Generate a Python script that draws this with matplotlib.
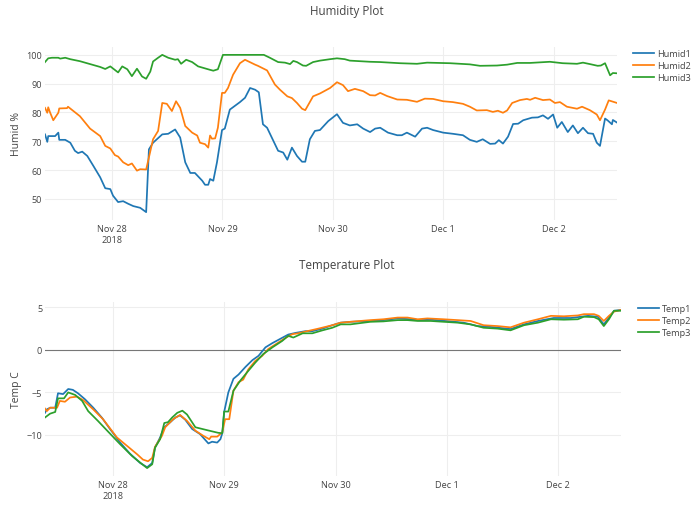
"""Humidity and temperature sensor plots, two stacked panels in the plotly look."""

import matplotlib
matplotlib.use("Agg")
import matplotlib.pyplot as plt
import pandas as pd

plt.rcParams["font.family"] = ["Open Sans", "DejaVu Sans"]

BASE = pd.Timestamp("2018-11-27")

# hours since 2018-11-27 00:00 and the reading at that time
humid1_hours = [9.4, 9.9, 10.1, 11.6, 12.3, 12.5, 13.8, 14.9, 15.9, 16.6, 17.5, 18.6, 19.9,
                21.4, 22.5, 23.6, 24.2, 25.3, 26.4, 27.5, 28.6, 30.1, 31.4, 32.0, 32.9, 34.9,
                36.2, 37.7, 38.8, 39.9, 41.0, 42.0, 43.6, 44.2, 44.9, 45.3, 46.0, 46.8, 47.9,
                48.5, 49.6, 51.8, 52.9, 54.0, 55.1, 55.9, 56.8, 57.7, 60.1, 61.2, 62.1, 63.1,
                64.2, 65.3, 66.0, 67.0, 68.1, 69.2, 71.0, 72.9, 74.2, 75.7, 77.3, 78.6, 80.1,
                81.2, 82.3, 84.0, 86.0, 87.0, 88.1, 89.9, 91.4, 92.5, 93.8, 96.0, 98.1, 100.3,
                101.8, 103.3, 104.6, 106.2, 107.3, 108.1, 109.0, 110.1, 111.2, 112.3, 113.4,
                115.3, 116.6, 117.7, 118.8, 119.9, 120.8, 121.8, 123.1, 124.2, 125.3, 126.4,
                127.5, 128.6, 129.4, 130.1, 131.2, 131.8, 132.7, 132.9, 133.8]
humid1 = [72.4, 69.8, 71.8, 71.8, 73.0, 70.5, 70.5, 69.5, 66.7, 65.9, 66.4, 64.9, 61.5,
          57.5, 53.7, 53.4, 51.1, 48.9, 49.2, 48.3, 47.5, 46.9, 45.4, 67.2, 69.5, 72.4,
          72.6, 74.1, 71.3, 62.7, 59.0, 59.0, 56.3, 54.9, 54.9, 56.9, 56.3, 62.7, 73.9,
          74.4, 81.0, 83.6, 85.1, 88.5, 87.9, 87.0, 75.9, 74.7, 66.7, 66.1, 63.6, 67.8,
          64.9, 62.9, 62.9, 70.7, 73.6, 73.9, 77.0, 79.4, 76.4, 75.5, 75.9, 74.4, 73.2,
          74.4, 74.7, 73.0, 72.1, 72.1, 73.0, 71.6, 74.4, 74.7, 73.9, 73.0, 72.6, 72.1,
          70.5, 69.8, 70.7, 69.1, 69.2, 70.4, 69.2, 71.6, 76.0, 76.1, 77.3,
          78.2, 78.3, 79.0, 77.8, 79.3, 74.7, 76.7, 73.2, 75.5, 72.8, 74.7,
          72.8, 72.6, 69.5, 68.4, 77.9, 77.2, 75.9, 77.4, 76.5]

humid2_hours = [9.4, 9.9, 10.1, 10.5, 11.2, 12.3, 12.5, 14.2, 14.4, 17.0, 19.2, 21.4, 22.5,
                23.6, 24.6, 25.3, 26.4, 27.5, 28.3, 29.4, 30.1, 31.4, 32.9, 34.0, 34.9, 35.9,
                37.0, 37.9, 38.8, 39.9, 41.4, 42.5, 43.1, 44.2, 44.9, 45.3, 45.7, 46.4, 47.0,
                47.9, 48.5, 49.2, 50.3, 51.8, 52.9, 55.1, 55.7, 57.7, 59.4, 60.5, 62.1, 63.1,
                64.2, 65.3, 66.0, 67.7, 69.2, 71.4, 72.9, 74.2, 75.3, 76.8, 78.6, 80.1, 81.2,
                82.3, 83.8, 86.0, 88.1, 90.3, 92.0, 93.8, 96.0, 98.1, 100.3, 101.8, 103.3,
                105.5, 106.8, 107.9, 109.0, 109.9, 111.0, 112.7, 114.2, 114.9, 116.0, 117.7,
                119.2, 120.3, 121.4, 122.9, 125.1, 126.2, 127.9, 129.4, 130.1, 131.2, 132.0,
                133.8]
humid2 = [81.6, 79.9, 81.8, 80.0, 77.3, 79.9, 81.4, 81.5, 82.0, 78.7, 74.4, 71.8, 68.4,
          67.5, 65.2, 64.7, 62.7, 61.7, 62.3, 59.8, 60.3, 60.2, 70.7, 73.6, 83.3, 83.0,
          80.5, 83.9, 81.6, 75.3, 73.0, 72.0, 69.5, 69.0, 67.8, 72.0, 70.9, 71.0, 74.7,
          86.8, 86.8, 88.5, 93.1, 97.1, 98.3, 96.6, 96.2, 94.6, 89.7, 87.9, 85.6, 85.0,
          83.3, 81.3, 80.8, 85.6, 86.6, 88.5, 90.5, 89.5, 87.4, 88.2, 87.4, 86.0, 85.9,
          86.8, 85.7, 84.5, 84.4, 83.7, 84.8, 84.7, 83.9, 83.6, 83.0, 82.0, 80.7,
          80.8, 80.2, 80.6, 79.9, 80.7, 83.3, 84.3, 84.7, 84.4, 85.1, 84.3,
          84.5, 83.3, 83.6, 82.0, 81.3, 82.0, 80.8, 79.3, 77.3, 81.0, 84.2,
          83.3]

humid3_hours = [9.4, 10.1, 10.9, 12.3, 12.7, 13.8, 14.9, 17.0, 19.2, 21.4, 22.5, 23.6, 25.3,
                26.2, 27.3, 28.3, 29.4, 30.5, 31.4, 32.3, 32.9, 34.0, 34.9, 36.2, 37.7, 38.3,
                39.0, 40.1, 41.4, 42.7, 45.3, 46.0, 47.0, 48.1, 57.0, 58.3, 60.1, 61.6, 62.7,
                63.4, 64.2, 65.5, 66.2, 67.7, 69.2, 71.4, 72.9, 74.6, 75.7, 80.1, 82.3, 86.6,
                90.3, 92.5, 97.5, 101.8, 104.0, 107.7, 109.9, 112.1, 114.9, 119.2, 122.0,
                125.1, 126.4, 127.9, 129.6, 130.3, 131.2, 132.3, 132.9, 133.8]
humid3 = [97.5, 98.8, 99.0, 99.0, 98.7, 99.0, 98.5, 97.8, 96.8, 95.8, 95.1, 96.0, 93.9,
          96.0, 95.0, 92.6, 95.2, 92.5, 91.7, 94.2, 97.7, 99.0, 100.0, 99.0, 98.3, 98.5,
          96.9, 98.3, 97.5, 96.0, 94.8, 94.5, 95.0, 100.0, 100.0, 99.0, 97.5, 97.3, 96.8,
          97.9, 97.5, 96.3, 96.2, 97.5, 98.0, 98.5, 98.8, 98.5, 98.0, 97.6, 97.5, 97.1,
          96.9, 97.3, 97.1, 96.7, 96.2, 96.3, 96.6, 97.2, 97.2, 97.6, 97.1,
          96.9, 97.3, 96.8, 96.2, 96.3, 97.1, 92.9, 93.7, 93.6]

temp1_hours = [9.4, 9.8, 10.5, 11.6, 12.2, 13.3, 14.4, 15.4, 16.5, 18.0, 19.8, 21.7, 23.4,
               25.6, 27.7, 29.9, 31.4, 32.5, 33.1, 34.2, 35.1, 36.4, 37.5, 38.5, 39.6, 41.1,
               42.8, 44.6, 45.4, 46.5, 47.2, 47.6, 48.0, 48.9, 50.0, 51.1, 52.6, 54.1, 55.4,
               56.9, 58.4, 60.1, 61.8, 63.4, 65.5, 67.0, 69.2, 71.3, 73.1, 75.2, 79.5, 82.3,
               85.4, 88.2, 90.3, 92.5, 95.7, 99.6, 102.6, 105.4, 109.7, 112.6, 115.6, 119.0,
               122.7, 126.4, 128.5, 129.8, 130.9, 132.0, 133.5]
temp1 = [-7.4, -7.0, -6.8, -6.8, -5.1, -5.2, -4.6, -4.7, -5.1, -5.8, -6.8, -8.0, -9.3,
         -10.9, -12.2, -13.3, -13.8, -13.3, -11.5, -10.3, -9.1, -8.5, -7.95, -7.7, -8.2, -9.3,
         -9.9, -11.0, -10.8, -10.9, -10.5, -9.8, -7.3, -5.0, -3.4, -2.9, -2.0, -1.2, -0.7,
         0.3, 0.8, 1.3, 1.8, 2.0, 2.2, 2.2, 2.5, 2.9, 3.2, 3.3, 3.4, 3.5,
         3.7, 3.6, 3.5, 3.55, 3.4, 3.2, 2.8, 2.7, 2.45, 3.0, 3.4, 3.75,
         3.75, 4.0, 3.9, 3.0, 3.8, 4.6, 4.7]

temp2_hours = [9.4, 9.8, 10.5, 12.0, 12.6, 13.7, 14.8, 16.3, 17.6, 19.8, 21.9, 24.9, 27.1,
               29.3, 30.5, 31.6, 32.5, 33.1, 34.6, 35.3, 37.0, 38.5, 40.0, 41.8, 43.5, 44.8,
               45.2, 46.5, 47.6, 48.2, 49.1, 50.0, 51.1, 52.1, 53.2, 54.7, 56.2, 57.5, 59.5,
               61.2, 62.7, 64.0, 65.5, 68.3, 71.3, 73.1, 75.2, 79.5, 82.3, 85.4, 87.5, 89.7,
               91.8, 95.3, 98.3, 101.1, 103.9, 106.9, 109.7, 112.6, 115.6, 118.4, 121.2,
               124.2, 125.5, 127.7, 128.7, 129.8, 130.9, 132.0, 133.5]
temp2 = [-6.9, -7.2, -6.8, -6.8, -6.0, -6.1, -5.6, -5.5, -5.9, -7.0, -8.15, -10.3, -11.3,
         -12.3, -12.9, -13.1, -12.7, -11.4, -10.1, -9.1, -8.15, -7.65, -8.35, -9.5, -10.1, -10.5,
         -10.2, -10.2, -9.7, -8.15, -8.15, -4.8, -3.8, -3.5, -2.3, -1.3, -0.7, 0.1, 0.8,
         1.4, 1.85, 1.95, 2.15, 2.5, 2.9, 3.2, 3.3, 3.5, 3.6, 3.8, 3.8, 3.6,
         3.7, 3.6, 3.5, 3.4, 2.9, 2.8, 2.65, 3.2, 3.6, 4.0, 3.95,
         4.05, 4.2, 4.2, 4.0, 3.4, 4.0, 4.5, 4.7]

temp3_hours = [9.4, 10.5, 11.6, 12.2, 13.5, 14.4, 15.9, 17.4, 18.7, 20.8, 22.8, 25.6, 28.2,
               29.9, 31.4, 32.5, 33.1, 34.2, 35.1, 35.9, 36.8, 37.9, 39.0, 40.0, 41.8, 44.4,
               46.7, 47.6, 48.0, 48.9, 50.0, 51.5, 53.0, 54.7, 56.4, 58.4, 60.5, 61.8, 62.9,
               64.9, 67.0, 69.2, 71.3, 73.1, 75.2, 79.5, 82.3, 85.4, 87.5, 89.7, 92.5, 95.3,
               98.3, 101.1, 103.9, 106.9, 109.7, 112.6, 115.6, 118.4, 121.2, 124.2, 125.5,
               127.7, 128.7, 129.8, 130.9, 132.0, 133.5]
temp3 = [-7.95, -7.5, -7.3, -5.7, -5.7, -5.0, -5.3, -6.0, -7.2, -8.35, -9.5, -11.1, -12.5,
         -13.25, -13.9, -13.45, -11.5, -10.5, -8.6, -8.5, -7.95, -7.4, -7.15, -7.6, -9.1, -9.45,
         -9.75, -9.8, -7.25, -7.25, -4.8, -3.6, -2.6, -1.5, -0.5, 0.3, 1.05, 1.65, 1.45,
         1.95, 1.95, 2.3, 2.6, 3.0, 3.0, 3.3, 3.35, 3.5, 3.5, 3.4, 3.4, 3.3,
         3.2, 3.0, 2.6, 2.5, 2.3, 2.9, 3.2, 3.6, 3.55, 3.6, 3.9,
         3.85, 3.6, 2.8, 3.6, 4.6, 4.6]

tick_days = ["2018-11-28", "2018-11-29", "2018-11-30", "2018-12-01", "2018-12-02"]
tick_labels = ["Nov 28\n2018", "Nov 29", "Nov 30", "Dec 1", "Dec 2"]
humid_ticks = [50, 60, 70, 80, 90, 100]
temp_ticks = [-10, -5, 0, 5]

PALETTE = ["#1f77b4", "#ff7f0e", "#2ca02c"]
TEXT = "#444444"


def _times(hours):
    return BASE + pd.to_timedelta(hours, unit="h")


def _padded(values, frac=0.05):
    lo = min(min(v) for v in values)
    hi = max(max(v) for v in values)
    pad = (hi - lo) * frac
    return lo - pad, hi + pad


def _panel(fig, rect, series, names, yticks, ylabel, legend_x):
    ax = fig.add_axes(rect)
    for i, (hours, vals) in enumerate(series):
        ax.plot(_times(hours), vals, color=PALETTE[i], linewidth=1.25, label=names[i])

    all_hours = [h for hours, _ in series for h in hours]
    ax.set_xlim(_times([min(all_hours)])[0], _times([max(all_hours)])[0])
    ax.set_ylim(*_padded([v for _, v in series]))

    ax.set_xticks(pd.to_datetime(tick_days))
    ax.set_xticklabels(tick_labels)
    ax.set_yticks(yticks)
    ax.tick_params(length=0, colors=TEXT, labelsize=6.6, pad=3)
    ax.tick_params(axis="y", pad=2)
    ax.grid(True, color="#eeeeee", linewidth=0.75)
    ax.set_axisbelow(True)
    for s in ax.spines.values():
        s.set_visible(False)
    ax.set_ylabel(ylabel, color=TEXT, fontsize=7.5)
    ax.yaxis.set_label_coords(-0.04, 0.5)
    leg = ax.legend(loc="upper left", bbox_to_anchor=(legend_x, 0.99), frameon=False,
                    fontsize=6.6, handlelength=2.3, handletextpad=0.3, labelspacing=0.35,
                    borderpad=0, borderaxespad=0)
    for t in leg.get_texts():
        t.set_color(TEXT)
    return ax


fig = plt.figure(figsize=(7.0, 5.1), dpi=100)

ax_h = _panel(fig, [45 / 700, 1 - 221 / 510, 572 / 700, 173 / 510],
              [(humid1_hours, humid1), (humid2_hours, humid2), (humid3_hours, humid3)],
              ["Humid1", "Humid2", "Humid3"], humid_ticks, "Humid %", 1.028)

ax_t = _panel(fig, [45 / 700, 1 - 477 / 510, 576 / 700, 174 / 510],
              [(temp1_hours, temp1), (temp2_hours, temp2), (temp3_hours, temp3)],
              ["Temp1", "Temp2", "Temp3"], temp_ticks, "Temp C", 1.03)
ax_t.axhline(0, color="#777777", linewidth=0.8, zorder=1.5)

fig.text(0.496, 1 - 11 / 510, "Humidity Plot", ha="center", va="center", color=TEXT, fontsize=8.4)
fig.text(0.496, 1 - 266 / 510, "Temperature Plot", ha="center", va="center", color=TEXT, fontsize=8.4)

fig.savefig("out.png", dpi=100)
